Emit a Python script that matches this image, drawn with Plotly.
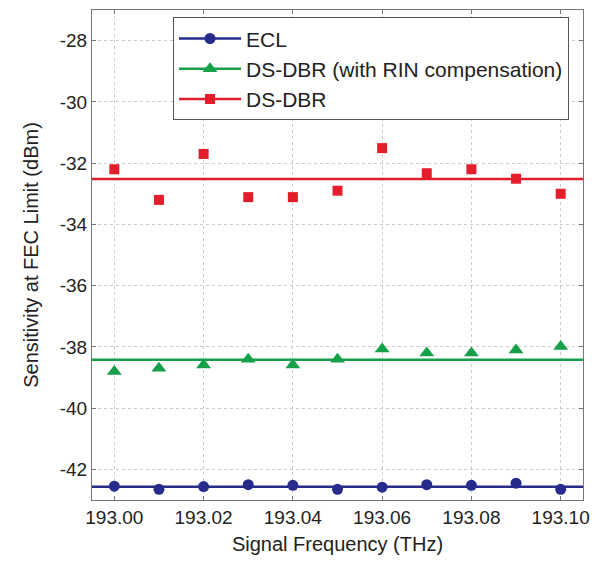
import plotly.graph_objects as go

freq = [193.00, 193.01, 193.02, 193.03, 193.04, 193.05, 193.06, 193.07, 193.08, 193.09, 193.10]
ecl = [-42.55, -42.65, -42.56, -42.50, -42.52, -42.65, -42.58, -42.50, -42.52, -42.45, -42.65]
dsdbr_rin = [-38.80, -38.70, -38.59, -38.40, -38.59, -38.40, -38.07, -38.20, -38.20, -38.10, -37.99]
dsdbr = [-32.20, -33.20, -31.70, -33.11, -33.11, -32.90, -31.51, -32.33, -32.20, -32.51, -33.00]
fit_levels = [-42.57, -38.42, -32.52]
names = ["ECL", "DS-DBR (with RIN compensation)", "DS-DBR"]
x_range = [192.995, 193.105]
y_range = [-43, -27]
x_ticks = [193.00, 193.02, 193.04, 193.06, 193.08, 193.10]
y_ticks = [-42, -40, -38, -36, -34, -32, -30, -28]

colors = ["#262b8c", "#16a04a", "#e41d2b"]
symbols = ["circle", "triangle-up", "square"]
sizes = [11, 13, 10]
series = [ecl, dsdbr_rin, dsdbr]

fig = go.Figure()
for i in range(3):
    fig.add_trace(go.Scatter(x=x_range, y=[fit_levels[i]] * 2, mode="lines",
                             line=dict(color=colors[i], width=2.5), showlegend=False,
                             hoverinfo="skip"))
    fig.add_trace(go.Scatter(x=freq, y=series[i], mode="markers",
                             marker=dict(symbol=symbols[i], color=colors[i], size=sizes[i]),
                             showlegend=False))
for i in range(3):
    fig.add_trace(go.Scatter(x=[None], y=[None], mode="lines+markers", name=names[i],
                             line=dict(color=colors[i], width=2.5),
                             marker=dict(symbol=symbols[i], color=colors[i], size=sizes[i])))

font_family = "Liberation Sans, Arial"
axis_common = dict(showline=True, linecolor="#777777", linewidth=1, mirror="ticks",
                   ticks="inside", ticklen=4, tickcolor="#777777",
                   showgrid=True, gridcolor="#cccccc", griddash="dot", gridwidth=1,
                   zeroline=False, tickfont=dict(family=font_family, size=19, color="#222222"),
                   title_font=dict(family=font_family, size=20, color="#222222"))

fig.update_layout(
    width=605, height=565,
    margin=dict(l=92, r=22, t=10, b=65),
    plot_bgcolor="white", paper_bgcolor="white",
    xaxis=dict(range=x_range, tickvals=x_ticks, ticktext=[f"{v:.2f}" for v in x_ticks],
               title=dict(text="Signal Frequency (THz)", standoff=10), **axis_common),
    yaxis=dict(range=y_range, tickvals=y_ticks, ticktext=[f"{v:d}" for v in y_ticks],
               title=dict(text="Sensitivity at FEC Limit (dBm)", standoff=15), **axis_common),
    legend=dict(x=0.165, y=0.985, xanchor="left", yanchor="top",
                bgcolor="white", bordercolor="#555555", borderwidth=1,
                font=dict(family=font_family, size=21, color="#222222"),
                tracegroupgap=0, itemwidth=62),
    showlegend=True,
)

fig.write_html("out.html")
